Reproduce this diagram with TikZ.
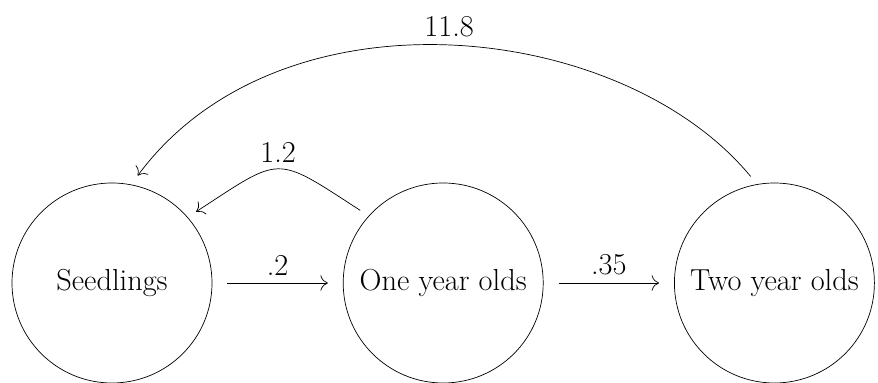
\documentclass[tikz,border=0pt]{standalone}
\usepackage{tikz}
\usetikzlibrary{arrows.meta, positioning}

\begin{document}
\begin{tikzpicture}[
    node distance=2.61cm,
    stage/.style={circle, draw, minimum size=4cm, inner sep=0pt, font=\LARGE},
    arr/.style={-{To[scale=1.7]}},
    lbl/.style={font=\LARGE},
]
    \useasboundingbox (-2.24,-2) rectangle (15.32,5.66);

    \node[stage] (seed) {Seedlings};
    \node[stage, right=of seed] (one) {One year olds};
    \node[stage, right=of one] (two) {Two year olds};

    % survival
    \draw[arr, shorten <=0.3cm, shorten >=0.3cm] (seed) -- (one) node[midway, above=1pt, lbl] (s1) {.2};
    \draw[arr, shorten <=0.3cm, shorten >=0.3cm] (one) -- (two) node[midway, above=1pt, lbl] (s2) {.35};

    % fecundity
    \draw[arr, shorten <=0.2cm, shorten >=0.2cm] (one.138) to[out=147, in=33, looseness=1.6]
        node[midway, above=1pt, lbl] (f1) {1.2} (seed.41);
    \draw[arr, shorten <=0.2cm, shorten >=0.22cm] (two.100) .. controls +(-2.71,3.29) and +(2.98,4.03) ..
        node[midway, above=2pt, lbl] (f2) {11.8} (seed.79);
\end{tikzpicture}
\end{document}
